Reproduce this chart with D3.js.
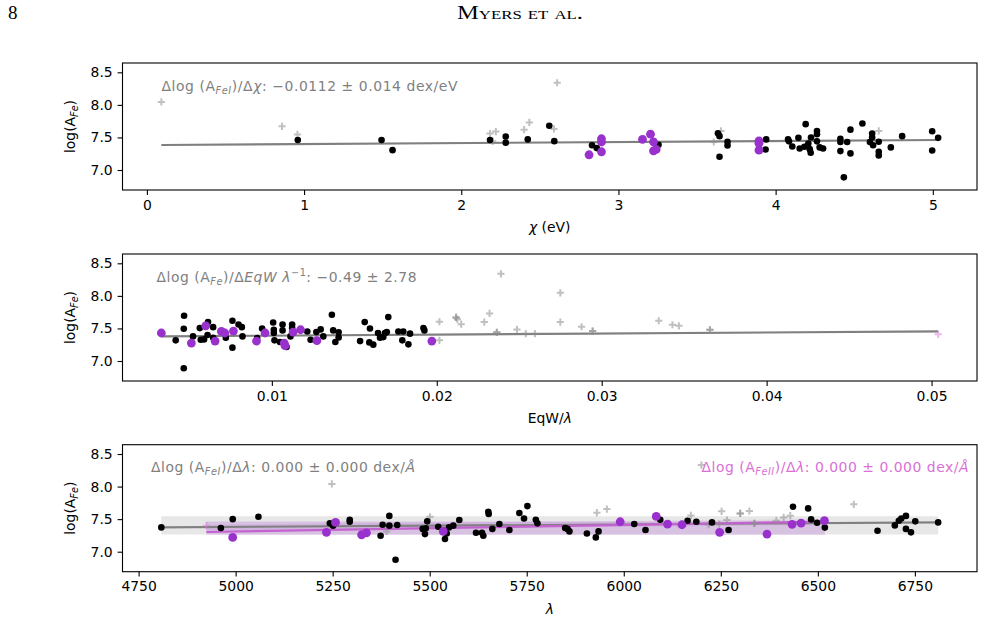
<!DOCTYPE html>
<html><head><meta charset="utf-8">
<script src="https://cdn.jsdelivr.net/npm/d3@7"></script>
<style>body{margin:0;background:#fff}svg{display:block}text{font-family:"DejaVu Sans",sans-serif}</style>
</head><body><svg id="c" width="984" height="621"></svg>
<script>
// ---------------- DATA ----------------
// Panel 1: excitation potential chi (eV) vs log(A_Fe)
const chiFeI = [[0.96,7.46],[1.493,7.46],[1.563,7.305],[2.183,7.46],[2.283,7.515],[2.283,7.42],[2.423,7.47],[2.56,7.68],[2.592,7.443],[2.832,7.38],[2.862,7.336],[3.255,7.387],
 [3.633,7.565],[3.643,7.52],[3.643,7.203],[3.694,7.433],[3.694,7.377],[3.94,7.47],[3.936,7.316],[4.079,7.47],[4.085,7.44],[4.106,7.362],[4.145,7.494],[4.153,7.33],[4.191,7.704],[4.183,7.356],[4.208,7.408],[4.217,7.32],[4.223,7.265],[4.225,7.5],[4.263,7.6],[4.263,7.55],[4.263,7.44],[4.28,7.347],[4.302,7.33],[4.412,7.48],[4.412,7.43],[4.455,7.43],[4.412,7.29],[4.434,6.887],[4.476,7.62],[4.476,7.255],[4.552,7.714],[4.614,7.56],[4.614,7.5],[4.6,7.43],[4.62,7.38],[4.656,7.433],[4.656,7.28],[4.656,7.224],[4.733,7.347],[4.805,7.52],[4.996,7.596],[4.996,7.3],[5.034,7.494]];
const chiFeII = [[2.813,7.234],[2.892,7.48],[2.892,7.43],[2.892,7.28],[3.153,7.47],[3.204,7.55],[3.223,7.433],[3.223,7.295],[3.24,7.316],[3.894,7.448],[3.894,7.41],[3.894,7.305]];
const chiRejected = [[0.092,8.045],[0.86,7.67],[0.958,7.546],[2.183,7.56],[2.22,7.59],[2.2,7.44],[2.4,7.62],[2.433,7.73],[2.59,7.63],[2.61,8.34],[3.606,7.43],[3.652,7.6],[4.656,7.6]];
const chiRejectedFeII = [];
const chiFit = [[0.092,7.385],[5.034,7.46]];

// Panel 2: reduced equivalent width EqW/lambda vs log(A_Fe)
const ewFeI = [[.00417,7.317],[.00468,7.695],[.00466,7.496],[.00466,6.888],[.00522,7.378],[.00563,7.505],[.00569,7.327],[.00589,7.332],[.00613,7.597],[.0061,7.40],[.00644,7.52],[.00644,7.358],[.00721,7.357],[.00761,7.618],[.00761,7.205],[.00798,7.56],[.00818,7.52],[.00822,7.378],[.00911,7.352],[.00941,7.5],[.01008,7.592],[.01012,7.48],[.01012,7.43],[.01016,7.317],[.01049,7.291],[.01065,7.56],[.01065,7.47],[.01089,7.214],[.01123,7.56],[.01123,7.506],[.01113,7.378],[.01215,7.454],[.01235,7.327],[.0127,7.444],[.01296,7.485],[.01312,7.378],[.01364,7.71],[.01372,7.47],[.01385,7.291],[.01405,7.44],[.01405,7.36],[.01535,7.306],[.01563,7.597],[.01595,7.5],[.01591,7.286],[.01615,7.251],[.01644,7.43],[.01656,7.357],[.01686,7.43],[.01706,7.674],[.01676,7.367],[.01697,7.444],[.01767,7.454],[.01797,7.454],[.01791,7.317],[.01828,7.256],[.01838,7.42],[.01919,7.505],[.01925,7.47]];
const ewFeII = [[.0033,7.43],[.00512,7.276],[.00599,7.54],[.00656,7.306],[.00694,7.454],[.00715,7.43],[.00767,7.46],[.00907,7.306],[.00959,7.43],[.01075,7.276],[.0108,7.235],[.01129,7.444],[.01174,7.48],[.01273,7.312],[.0197,7.306]];
const ewRejected = [[.02016,7.317],[.02016,7.603],[.02117,7.669],[.02117,7.669],[.02125,7.64],[.02148,7.566],[.02288,7.597],[.0232,7.73],[.02364,7.44],[.02364,7.44],[.02389,8.338],[.02486,7.485],[.0254,7.42],[.02595,7.42],[.02749,8.047],[.02749,7.597],[.02878,7.526],[.02945,7.46],[.02945,7.46],[.03346,7.618],[.03429,7.557],[.03468,7.54],[.03656,7.48],[.03656,7.48]];
const ewRejectedFeII = [[.0504,7.41]];
const ewFit = [[.0033,7.378],[.0504,7.455]];

// Panel 3: wavelength lambda vs log(A_Fe)
const lamFeI = [[4808.6,7.373],[4962,7.363],[4992.5,7.50],[5058.8,7.537],[5242.7,7.435],[5251,7.40],[5294,7.49],[5294,7.46],[5373.5,7.245],[5378.7,7.414],[5396,7.55],[5396,7.40],[5412,6.877],[5416.3,7.41],[5482,7.35],[5487.8,7.27],[5493.7,7.466],[5490,7.36],[5522,7.384],[5539.4,7.195],[5543.8,7.28],[5549.7,7.373],[5560.8,7.40],[5576.3,7.487],[5619.3,7.29],[5634.8,7.29],[5638.2,7.245],[5651,7.614],[5652,7.58],[5661.4,7.35],[5679.5,7.425],[5705.3,7.333],[5731,7.594],[5743,7.51],[5751.7,7.70],[5773.4,7.49],[5777.5,7.435],[5849,7.363],[5855,7.35],[5860,7.312],[5905,7.28],[5928,7.22],[5935,7.312],[6027,7.425],[6056,7.333],[6094,7.49],[6164.4,7.476],[6187,7.46],[6227.3,7.45],[6270,7.333],[6436,7.69],[6475,7.665],[6482.7,7.496],[6498,7.445],[6518,7.37],[6653.8,7.322],[6698.4,7.404],[6708.7,7.476],[6715,7.51],[6727,7.55],[6727,7.35],[6740,7.297],[6751,7.466],[6810,7.45]];
const lamFeII = [[4992.5,7.22],[5234,7.297],[5257.4,7.45],[5324.5,7.26],[5337,7.29],[5535,7.312],[5990.8,7.46],[6083.7,7.542],[6112.8,7.425],[6150,7.414],[6247,7.297],[6369,7.27],[6433.7,7.42],[6457,7.44],[6517,7.476]];
const lamRejected = [[5247.9,8.04],[5389,7.31],[5500.7,7.537],[5930.7,7.60],[5956.5,7.655],[6173,7.557],[6200,8.33],[6218.6,7.414],[6246,7.425],[6252,7.62],[6266,7.487],[6300,7.588],[6300,7.588],[6323.6,7.625],[6336.5,7.435],[6336.5,7.435],[6393,7.476],[6412,7.527],[6429,7.553],[6592.6,7.727]];
const lamRejectedFeII = [[4924.6,7.40]];
const lamFitFeI = [[4808.6,7.373],[6810,7.45]];
const lamBandFeI = [[4808.6,7.265,7.545],[6810,7.265,7.545]];
const lamFitFeII = [[4924.6,7.303],[6518,7.462]];
const lamBandFeII = [[4924.6,7.26,7.465],[6518,7.26,7.465]];
const lamBandFeIIInner = [[4924.6,7.33,7.415],[6518,7.41,7.50]];

// tick values
const yTicks = [7.0, 7.5, 8.0, 8.5];
const chiTicks = [0, 1, 2, 3, 4, 5];
const ewTicks = [0.01, 0.02, 0.03, 0.04, 0.05];
const lamTicks = [4750, 5000, 5250, 5500, 5750, 6000, 6250, 6500, 6750];
const yDomain = [6.693, 8.643];

// ---------------- DRAW ----------------
const svg = d3.select('#c');
const FS = 13.9;
const L = 122.5, R = 977, PH = 127;
const GREY = '#808080', PURPLE = '#9932CC', ORCHID_LINE = '#C462CF', ORCHID = '#DA70D6';

function rich(g, x, y, segs, opts = {}) {
  const t = g.append('text').attr('x', x).attr('y', y)
    .attr('font-size', FS).attr('fill', opts.fill || '#000')
    .attr('text-anchor', opts.anchor || 'start');
  if (opts.transform) t.attr('transform', opts.transform);
  if (opts.len) t.attr('textLength', opts.len).attr('lengthAdjust', 'spacing');
  let shift = 0;
  segs.forEach(s => {
    const sp = t.append('tspan').text(s.t);
    let target = 0;
    if (s.sub) { sp.attr('font-size', FS * 0.7); target = FS * 0.22; }
    if (s.sup) { sp.attr('font-size', FS * 0.7); target = -FS * 0.4; }
    if (s.it) sp.attr('font-style', 'italic');
    const dy = target - shift;
    if (dy !== 0) sp.attr('dy', dy);
    shift = target;
  });
  return t;
}

function extentPad(arrs) {
  const xs = arrs.flat().map(d => d[0]);
  const mn = d3.min(xs), mx = d3.max(xs), p = (mx - mn) * 0.05;
  return [mn - p, mx + p];
}

function panel(cfg) {
  const top = cfg.top, bottom = top + PH;
  const x = d3.scaleLinear().domain(extentPad([cfg.feI, cfg.feII, cfg.rej, cfg.rejII])).range([L, R]);
  const y = d3.scaleLinear().domain(yDomain).range([bottom, top]);
  const g = svg.append('g');

  (cfg.bands || []).forEach(b => {
    g.append('path').datum(b.data)
      .attr('d', d3.area().x(d => x(d[0])).y0(d => y(d[1])).y1(d => y(d[2])))
      .attr('fill', b.fill).attr('fill-opacity', b.op);
  });
  (cfg.fits || []).forEach(f => {
    g.append('path').datum(f.data)
      .attr('d', d3.line().x(d => x(d[0])).y(d => y(d[1])))
      .attr('stroke', f.color).attr('stroke-width', 2.1).attr('fill', 'none');
  });
  const plus = (arr, col, op) => g.append('g').selectAll('path').data(arr).join('path')
    .attr('d', d => `M${x(d[0]) - 3.6},${y(d[1])}h7.2M${x(d[0])},${y(d[1]) - 3.6}v7.2`)
    .attr('stroke', col).attr('stroke-width', 2).attr('stroke-opacity', op);
  plus(cfg.rej, '#8c8c8c', 0.55);
  plus(cfg.rejII, ORCHID, 0.5);
  g.append('g').selectAll('circle').data(cfg.feI).join('circle')
    .attr('cx', d => x(d[0])).attr('cy', d => y(d[1])).attr('r', 3.3).attr('fill', '#000');
  g.append('g').selectAll('circle').data(cfg.feII).join('circle')
    .attr('cx', d => x(d[0])).attr('cy', d => y(d[1])).attr('r', 4.4).attr('fill', PURPLE);

  const ax = g.append('g').attr('transform', `translate(0,${bottom})`)
    .call(d3.axisBottom(x).tickValues(cfg.ticks).tickFormat(cfg.fmt).tickSizeInner(4.9).tickSizeOuter(0).tickPadding(4.9));
  const ay = g.append('g').attr('transform', `translate(${L},0)`)
    .call(d3.axisLeft(y).tickValues(yTicks).tickFormat(d3.format('.1f')).tickSizeInner(4.9).tickSizeOuter(0).tickPadding(4.9));
  [ax, ay].forEach(a => {
    a.select('.domain').remove();
    a.selectAll('line').attr('stroke', '#000').attr('stroke-width', 1.1);
    a.selectAll('text').attr('font-size', FS).attr('font-family', '"DejaVu Sans",sans-serif').attr('fill', '#000');
  });
  g.append('rect').attr('x', L).attr('y', top).attr('width', R - L).attr('height', PH)
    .attr('fill', 'none').attr('stroke', '#000').attr('stroke-width', 1.1);

  const cy = (top + bottom) / 2;
  rich(g, 0, 0, [{t: 'log(A'}, {t: 'Fe', sub: true, it: true}, {t: ')'}],
    {anchor: 'middle', transform: `translate(${75},${cy}) rotate(-90)`});
  rich(g, (L + R) / 2, bottom + 42, cfg.xlabel, {anchor: 'middle'});
  (cfg.notes || []).forEach(n => rich(g, n.x, top + n.dy, n.segs, {fill: n.fill, anchor: n.anchor, len: n.len}));
}

panel({
  top: 63, feI: chiFeI, feII: chiFeII, rej: chiRejected, rejII: chiRejectedFeII,
  ticks: chiTicks, fmt: d3.format('d'),
  fits: [{data: chiFit, color: GREY}],
  xlabel: [{t: 'χ', it: true}, {t: ' (eV)'}],
  notes: [{x: 161.5, dy: 28, len: 296, fill: GREY, segs: [{t: 'Δlog (A'}, {t: 'FeI', sub: true, it: true}, {t: ')/Δ'}, {t: 'χ', it: true}, {t: ': −0.0112 ± 0.014 dex/eV'}]}]
});
panel({
  top: 254, feI: ewFeI, feII: ewFeII, rej: ewRejected, rejII: ewRejectedFeII,
  ticks: ewTicks, fmt: d3.format('.2f'),
  bands: [{data: ewFit.map(d => [d[0], d[1] - 0.012, d[1] + 0.004]), fill: '#bdbdbd', op: 0.6}],
  fits: [{data: ewFit, color: GREY}],
  xlabel: [{t: 'EqW/'}, {t: 'λ', it: true}],
  notes: [{x: 156.5, dy: 28, len: 260, fill: GREY, segs: [{t: 'Δlog (A'}, {t: 'Fe', sub: true, it: true}, {t: ')/Δ'}, {t: 'EqW λ', it: true}, {t: '−1', sup: true}, {t: ': −0.49 ± 2.78'}]}]
});
panel({
  top: 444.7, feI: lamFeI, feII: lamFeII, rej: lamRejected, rejII: lamRejectedFeII,
  ticks: lamTicks, fmt: d3.format('d'),
  bands: [{data: lamBandFeI, fill: '#d3d3d3', op: 0.55}, {data: lamBandFeII, fill: PURPLE, op: 0.2}, {data: lamBandFeIIInner, fill: PURPLE, op: 0.1}],
  fits: [{data: lamFitFeI, color: GREY}, {data: lamFitFeII, color: ORCHID_LINE}],
  xlabel: [{t: 'λ', it: true}],
  notes: [
    {x: 151, dy: 27, len: 264, fill: GREY, segs: [{t: 'Δlog (A'}, {t: 'FeI', sub: true, it: true}, {t: ')/Δ'}, {t: 'λ', it: true}, {t: ': 0.000 ± 0.000 dex/'}, {t: 'Å', it: true}]},
    {x: 701.5, dy: 27, len: 267, fill: ORCHID, segs: [{t: 'Δlog (A'}, {t: 'FeII', sub: true, it: true}, {t: ')/Δ'}, {t: 'λ', it: true}, {t: ': 0.000 ± 0.000 dex/'}, {t: 'Å', it: true}]}
  ]
});

// page header
svg.append('text').attr('x', 8).attr('y', 19).attr('font-size', 19)
  .style('font-family', '"Liberation Serif","DejaVu Serif",serif').text('8');
svg.append('text').attr('x', 457).attr('y', 19).attr('font-size', 19)
  .style('font-family', '"Liberation Serif","DejaVu Serif",serif').style('font-variant', 'small-caps')
  .attr('textLength', 126).attr('lengthAdjust', 'spacingAndGlyphs').text('Myers et al.');
</script></body></html>
